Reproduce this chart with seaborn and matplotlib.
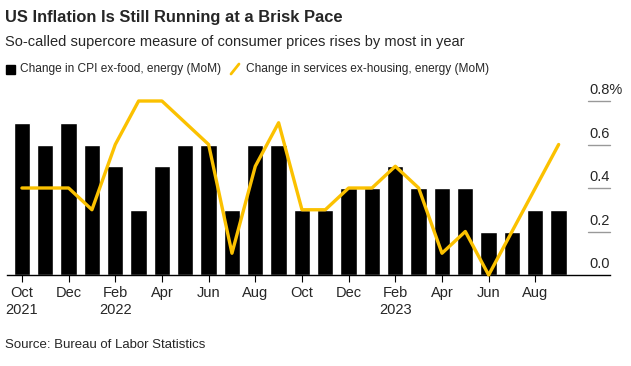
import matplotlib
matplotlib.use("Agg")
import matplotlib.pyplot as plt
import matplotlib.transforms as mtransforms
from matplotlib.lines import Line2D
from matplotlib.patches import Rectangle
import seaborn as sns
import pandas as pd

# Monthly data, Oct 2021 - Sep 2023
months = ["2021-10", "2021-11", "2021-12", "2022-01", "2022-02", "2022-03",
          "2022-04", "2022-05", "2022-06", "2022-07", "2022-08", "2022-09",
          "2022-10", "2022-11", "2022-12", "2023-01", "2023-02", "2023-03",
          "2023-04", "2023-05", "2023-06", "2023-07", "2023-08", "2023-09"]
core_cpi = [0.7, 0.6, 0.7, 0.6, 0.5, 0.3, 0.5, 0.6, 0.6, 0.3, 0.6, 0.6,
            0.3, 0.3, 0.4, 0.4, 0.5, 0.4, 0.4, 0.4, 0.2, 0.2, 0.3, 0.3]
supercore = [0.4, 0.4, 0.4, 0.3, 0.6, 0.8, 0.8, 0.7, 0.6, 0.1, 0.5, 0.7,
             0.3, 0.3, 0.4, 0.4, 0.5, 0.4, 0.1, 0.2, 0.0, 0.2, 0.4, 0.6]
tick_pos = list(range(0, 24, 2))
tick_labels = ["Oct\n2021", "Dec", "Feb\n2022", "Apr", "Jun", "Aug",
               "Oct", "Dec", "Feb\n2023", "Apr", "Jun", "Aug"]
y_ticks = [0.0, 0.2, 0.4, 0.6, 0.8]
y_labels = ["0.0", "0.2", "0.4", "0.6", "0.8%"]

YELLOW = "#FBC100"
GREY = "#999999"

sns.set_style("white")
plt.rcParams['font.family'] = ['Liberation Sans', 'DejaVu Sans']

W, H = 631, 366
fig = plt.figure(figsize=(W / 100, H / 100), dpi=100)
ax = fig.add_axes([7 / W, 91 / H, 603 / W, 174 / H])

df = pd.DataFrame({"month": months, "core": core_cpi, "super": supercore})
sns.barplot(data=df, x="month", y="core", color="black", saturation=1,
            width=0.7, ax=ax)
sns.lineplot(x=list(range(len(months))), y=supercore, color=YELLOW,
             linewidth=2.4, ax=ax, clip_on=False, zorder=5)

ax.set_xlim(-0.64, 25.2)
ax.set_ylim(0, 0.8)
ax.set_xlabel("")
ax.set_ylabel("")
ax.set_xticks(tick_pos)
ax.set_xticklabels(tick_labels, fontsize=10.5, linespacing=1.25)
ax.tick_params(axis="x", bottom=True, direction="out", length=5, width=0.8,
               color="black", pad=3)
ax.set_yticks([])
for s in ["left", "top", "right"]:
    ax.spines[s].set_visible(False)
ax.spines["bottom"].set_color("black")
ax.spines["bottom"].set_linewidth(1)

# right-side short gridlines with labels above
trans = mtransforms.blended_transform_factory(ax.transAxes, ax.transData)
for y, lab in zip(y_ticks, y_labels):
    if y > 0:
        ax.plot([0.9635, 1.0], [y, y], transform=trans, color=GREY, lw=1,
                clip_on=False)
    ax.text(0.966, y + 0.018, lab, transform=trans, fontsize=10.5,
            ha="left", va="bottom")

# titles
fig.text(5 / W, 1 - 10 / H, "US Inflation Is Still Running at a Brisk Pace",
         fontsize=11.9, fontweight="bold", ha="left", va="top")
fig.text(5 / W, 1 - 35 / H,
         "So-called supercore measure of consumer prices rises by most in year",
         fontsize=10.5, ha="left", va="top")

# legend
fig.add_artist(Rectangle((6 / W, 1 - 74 / H), 9 / W, 9 / H,
                         transform=fig.transFigure, color="black"))
fig.text(20 / W, 1 - 69 / H, "Change in CPI ex-food, energy (MoM)",
         fontsize=8.6, ha="left", va="center")
fig.add_artist(Line2D([231 / W, 239 / W], [1 - 74 / H, 1 - 64 / H],
                      transform=fig.transFigure, color=YELLOW, lw=2))
fig.text(246 / W, 1 - 69 / H, "Change in services ex-housing, energy (MoM)",
         fontsize=8.6, ha="left", va="center")

fig.text(5 / W, 1 - 345 / H, "Source: Bureau of Labor Statistics",
         fontsize=9.5, ha="left", va="center")

fig.savefig("out.png", dpi=100)
